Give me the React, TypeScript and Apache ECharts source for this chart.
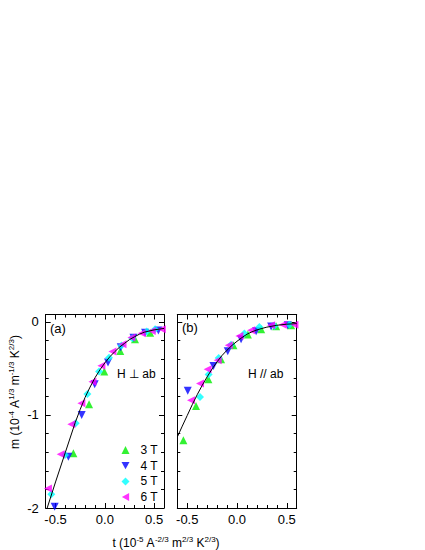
import React, { useEffect, useRef } from "react";
import * as echarts from "echarts";

const FONT = "'Liberation Sans', Arial, Helvetica, sans-serif";

// ticks
const xMajor = [-0.5, 0, 0.5];
const xMinor = [-0.6, -0.4, -0.3, -0.2, -0.1, 0.1, 0.2, 0.3, 0.4, 0.6];
const yMajor = [-2, -1, 0];
const yMinor = [-1.8, -1.6, -1.4, -1.2, -0.8, -0.6, -0.4, -0.2];

const seriesNames = ["3 T", "4 T", "5 T", "6 T"];
const seriesColors = ["#00ee00", "#0000ff", "#00ffff", "#ff00ff"];

// panel (a): H perpendicular ab
const a3T = [[-0.319, -1.412], [-0.16, -0.885], [-0.006, -0.534], [0.156, -0.312], [0.306, -0.186], [0.459, -0.115]];
const a4T = [[-0.509, -1.986], [-0.37, -1.448], [-0.235, -1.0], [-0.103, -0.67], [0.032, -0.437], [0.161, -0.272], [0.29, -0.17], [0.408, -0.115], [0.543, -0.093]];
const a5T = [[-0.543, -1.853], [-0.404, -1.43], [-0.296, -1.09], [-0.177, -0.774], [-0.059, -0.534], [0.042, -0.384], [0.168, -0.254], [0.279, -0.176], [0.425, -0.104], [0.51, -0.079]];
const a6T = [[-0.577, -1.79], [-0.448, -1.423], [-0.34, -1.1], [-0.238, -0.875], [-0.126, -0.642], [-0.035, -0.47], [0.077, -0.319], [0.179, -0.24], [0.27, -0.168], [0.374, -0.122], [0.476, -0.097], [0.578, -0.078]];
const aFit = [[-0.585, -2.0], [-0.5, -1.72], [-0.4, -1.4], [-0.3, -1.08], [-0.25, -0.94], [-0.2, -0.81], [-0.15, -0.7], [-0.1, -0.6], [-0.05, -0.515], [0.0, -0.44], [0.05, -0.375], [0.1, -0.32], [0.15, -0.27], [0.2, -0.23], [0.25, -0.19], [0.3, -0.16], [0.35, -0.132], [0.4, -0.11], [0.5, -0.085], [0.6, -0.07]];

// panel (b): H // ab
const b3T = [[-0.539, -1.272], [-0.412, -0.903], [-0.288, -0.616], [-0.16, -0.401], [-0.036, -0.251], [0.109, -0.136], [0.243, -0.079], [0.393, -0.047], [0.544, -0.036]];
const b4T = [[-0.495, -0.74], [-0.237, -0.473], [-0.093, -0.315], [0.041, -0.186], [0.192, -0.1], [0.343, -0.05], [0.51, -0.036]];
const b5T = [[-0.372, -0.806], [-0.285, -0.566], [-0.184, -0.387], [-0.06, -0.244], [0.074, -0.125], [0.225, -0.054], [0.376, -0.043], [0.527, -0.029]];
const b6T = [[-0.462, -0.842], [-0.372, -0.663], [-0.295, -0.509], [-0.194, -0.412], [-0.083, -0.251], [0.024, -0.15], [0.142, -0.09], [0.343, -0.036], [0.46, -0.029], [0.577, -0.029]];
const bFit = [[-0.6, -1.237], [-0.55, -1.12], [-0.5, -1.005], [-0.45, -0.89], [-0.4, -0.782], [-0.35, -0.682], [-0.3, -0.59], [-0.25, -0.505], [-0.2, -0.428], [-0.15, -0.36], [-0.1, -0.303], [-0.05, -0.252], [0.0, -0.208], [0.05, -0.168], [0.1, -0.132], [0.15, -0.106], [0.2, -0.086], [0.25, -0.07], [0.3, -0.056], [0.4, -0.036], [0.5, -0.024], [0.6, -0.018]];

const symbols = [
  "triangle",
  "path://M0,0L10,0L5,9Z",
  "diamond",
  "path://M9,0L9,10L0,5Z",
];

function xAxes(g: number, labels: boolean) {
  const base = { type: "value", gridIndex: g, min: -0.6, max: 0.6, splitLine: { show: false } };
  const line = { show: true, onZero: false, lineStyle: { color: "#000", width: 1 } };
  const noLine = { show: false, onZero: false };
  return [
    {
      ...base, position: "bottom", axisLine: line,
      axisTick: { show: true, inside: true, length: 5, customValues: xMajor, lineStyle: { color: "#000" } },
      axisLabel: { show: labels, customValues: xMajor, formatter: (v: number) => v.toFixed(1), color: "#000", fontSize: 13, fontFamily: FONT, margin: 5 },
    },
    {
      ...base, position: "top", axisLine: line,
      axisTick: { show: true, inside: true, length: 5, customValues: xMajor, lineStyle: { color: "#000" } },
      axisLabel: { show: false },
    },
    {
      ...base, position: "bottom", axisLine: noLine,
      axisTick: { show: true, inside: true, length: 3, customValues: xMinor, lineStyle: { color: "#000" } },
      axisLabel: { show: false },
    },
    {
      ...base, position: "top", axisLine: noLine,
      axisTick: { show: true, inside: true, length: 3, customValues: xMinor, lineStyle: { color: "#000" } },
      axisLabel: { show: false },
    },
  ];
}

function yAxes(g: number, labels: boolean) {
  const base = { type: "value", gridIndex: g, min: -2, max: 0.08, splitLine: { show: false } };
  const line = { show: true, onZero: false, lineStyle: { color: "#000", width: 1 } };
  const noLine = { show: false, onZero: false };
  return [
    {
      ...base, position: "left", axisLine: line,
      axisTick: { show: true, inside: true, length: 5, customValues: yMajor, lineStyle: { color: "#000" } },
      axisLabel: { show: labels, customValues: yMajor, formatter: (v: number) => String(Math.round(v)), color: "#000", fontSize: 13, fontFamily: FONT, margin: 7 },
    },
    {
      ...base, position: "right", axisLine: line,
      axisTick: { show: true, inside: true, length: 5, customValues: yMajor, lineStyle: { color: "#000" } },
      axisLabel: { show: false },
    },
    {
      ...base, position: "left", axisLine: noLine,
      axisTick: { show: true, inside: true, length: 3, customValues: yMinor, lineStyle: { color: "#000" } },
      axisLabel: { show: false },
    },
    {
      ...base, position: "right", axisLine: noLine,
      axisTick: { show: true, inside: true, length: 3, customValues: yMinor, lineStyle: { color: "#000" } },
      axisLabel: { show: false },
    },
  ];
}

function scatterSeries(g: number, sets: number[][][]) {
  return sets.map((d, i) => ({
    type: "scatter",
    name: seriesNames[i],
    xAxisIndex: g * 4,
    yAxisIndex: g * 4,
    data: d,
    symbol: symbols[i],
    symbolSize: 8,
    itemStyle: { color: seriesColors[i] },
    z: 2,
  }));
}

function fitSeries(g: number, d: number[][]) {
  return {
    type: "line",
    xAxisIndex: g * 4,
    yAxisIndex: g * 4,
    data: d,
    showSymbol: false,
    symbol: "none",
    smooth: false,
    clip: true,
    lineStyle: { color: "#000", width: 1 },
    z: 3,
    silent: true,
  };
}

const rich = {
  n: { fontSize: 12, fontFamily: FONT, fill: "#000", lineHeight: 14, verticalAlign: "bottom" },
  s: { fontSize: 8, fontFamily: FONT, fill: "#000", lineHeight: 8, verticalAlign: "top" },
};

export default function App() {
  const ref = useRef<HTMLDivElement>(null);
  useEffect(() => {
    if (!ref.current) return;
    const chart = echarts.init(ref.current, null, { renderer: "svg" });
    const option: any = {
      animation: false,
      backgroundColor: "#fff",
      textStyle: { fontFamily: FONT },
      grid: [
        { left: 45.7, top: 314.5, width: 118.3, height: 193.5 },
        { left: 177.3, top: 314.5, width: 119.4, height: 193.5 },
      ],
      xAxis: [...xAxes(0, true), ...xAxes(1, true)],
      yAxis: [...yAxes(0, true), ...yAxes(1, false)],
      legend: {
        data: seriesNames,
        orient: "vertical",
        left: 116.5,
        top: 438,
        itemWidth: 8,
        itemHeight: 8,
        itemGap: 1.7,
        selectedMode: false,
        textStyle: { fontSize: 12, lineHeight: 14, color: "#000", fontFamily: FONT, padding: [0, 0, 0, 6] },
      },
      series: [
        ...scatterSeries(0, [a3T, a4T, a5T, a6T]),
        fitSeries(0, aFit),
        ...scatterSeries(1, [b3T, b4T, b5T, b6T]),
        fitSeries(1, bFit),
      ],
      graphic: [
        { type: "text", x: 50, y: 328, style: { text: "(a)", fontSize: 13, fontFamily: FONT, fill: "#000", verticalAlign: "middle" } },
        { type: "text", x: 182, y: 327, style: { text: "(b)", fontSize: 13, fontFamily: FONT, fill: "#000", verticalAlign: "middle" } },
        { type: "text", x: 117, y: 373.5, style: { text: "H \u22a5 ab", fontSize: 12, fontFamily: FONT, fill: "#000", verticalAlign: "middle" } },
        { type: "text", x: 248, y: 374, style: { text: "H // ab", fontSize: 12, fontFamily: FONT, fill: "#000", verticalAlign: "middle" } },
        {
          type: "text", x: 166, y: 542,
          style: {
            text: "{n|t (10}{s|-5}{n| A}{s|-2/3}{n| m}{s|2/3}{n| K}{s|2/3}{n|)}",
            rich, align: "center", verticalAlign: "middle",
          },
        },
        {
          type: "text", x: 14, y: 392, rotation: Math.PI / 2,
          style: {
            text: "{n|m (10}{s|-4}{n| A}{s|1/3}{n| m}{s|-1/3}{n| K}{s|2/3}{n|)}",
            rich, align: "center", verticalAlign: "middle",
          },
        },
      ],
    };
    chart.setOption(option);
    return () => chart.dispose();
  }, []);
  return <div ref={ref} style={{ position: "absolute", left: 0, top: 0, width: 425, height: 550 }} />;
}
